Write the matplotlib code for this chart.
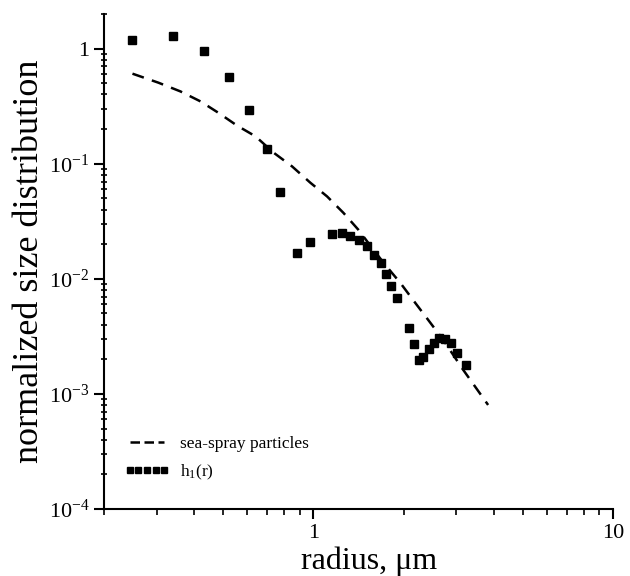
import matplotlib
matplotlib.use('Agg')
import matplotlib.pyplot as plt
from matplotlib.lines import Line2D
import numpy as np

plt.rcParams['font.family'] = ['Liberation Serif', 'DejaVu Serif']
plt.rcParams['mathtext.fontset'] = 'custom'
plt.rcParams['mathtext.rm'] = 'Liberation Serif'
plt.rcParams['mathtext.it'] = 'Liberation Serif:italic'

# h1(r) points
h_r = [0.249, 0.340, 0.433, 0.522, 0.612, 0.701, 0.772, 0.883, 0.972,
       1.154, 1.247, 1.328, 1.416, 1.510, 1.588, 1.685, 1.747, 1.822, 1.905,
       2.079, 2.159, 2.255, 2.331, 2.436, 2.530, 2.636, 2.754, 2.877, 3.027, 3.236]
h_val = [1.197, 1.297, 0.961, 0.571, 0.295, 0.135, 0.0563, 0.0169, 0.0207,
         0.0246, 0.0250, 0.0237, 0.0218, 0.0191, 0.0162, 0.0137, 0.0110, 0.00869, 0.00680,
         0.00373, 0.00272, 0.00198, 0.00208, 0.00245, 0.00276, 0.00305, 0.00299, 0.00279,
         0.00229, 0.00178]

# sea-spray particle curve
sea_r = [0.249, 0.304, 0.360, 0.420, 0.482, 0.557, 0.641, 0.736, 0.849, 0.977,
         1.111, 1.259, 1.413, 1.569, 1.738, 1.950, 2.188, 2.416, 2.712, 3.162, 3.83]
sea_val = [0.606, 0.506, 0.425, 0.348, 0.277, 0.214, 0.173, 0.125, 0.0948, 0.0684,
           0.0520, 0.0375, 0.0267, 0.0186, 0.0132, 0.00923, 0.00618, 0.00440, 0.00295,
           0.00162, 0.000802]

yticks = [1e-4, 1e-3, 1e-2, 1e-1, 1]
ylabels = ['$10^{-4}$', '$10^{-3}$', '$10^{-2}$', '$10^{-1}$', '1']
xticks = [1, 10]
xlabels = ['1', '10']

fig = plt.figure(figsize=(6.3, 5.76), dpi=100)
ax = fig.add_axes([0.165, 0.1163, 0.808, 0.8594])

ax.plot(sea_r, sea_val, color='black', lw=1.8, linestyle=(0, (4.8, 3.4)))
ax.plot(h_r, h_val, linestyle='none', marker='s', markersize=5.5, color='black')

ax.set_xscale('log')
ax.set_yscale('log')
ax.set_xlim(0.2, 10)
ax.set_ylim(1e-4, 2)
ax.set_xticks(xticks)
ax.set_xticklabels(xlabels)
ax.set_yticks(yticks)
ax.set_yticklabels(ylabels)

for s in ['top', 'right']:
    ax.spines[s].set_visible(False)
for s in ['left', 'bottom']:
    ax.spines[s].set_linewidth(1.5)

ax.tick_params(which='major', direction='out', length=7, width=1.5, labelsize=16)
ax.tick_params(which='minor', direction='out', length=4, width=1.2)
ax.tick_params(axis='y', which='minor', direction='inout', length=5)

ax.set_xlabel('radius, μm', fontsize=23, labelpad=0)
ax.xaxis.set_label_coords(0.52, -0.075)
ax.set_ylabel('normalized size distribution', fontsize=26, labelpad=2)

handles = [Line2D([], [], color='black', lw=1.8, linestyle=(0, (3.8, 1.8))),
           Line2D([], [], color='black', linestyle='none', marker='s', markersize=4.5)]
ax.legend(handles, ['sea-spray particles', 'h$_1$(r)'], loc='lower left',
          bbox_to_anchor=(0.04, 0.055), frameon=False, fontsize=12.5,
          handlelength=2.6, handletextpad=0.6, labelspacing=0.6,
          borderpad=0, borderaxespad=0, numpoints=5)

fig.savefig('out.png', dpi=100)
